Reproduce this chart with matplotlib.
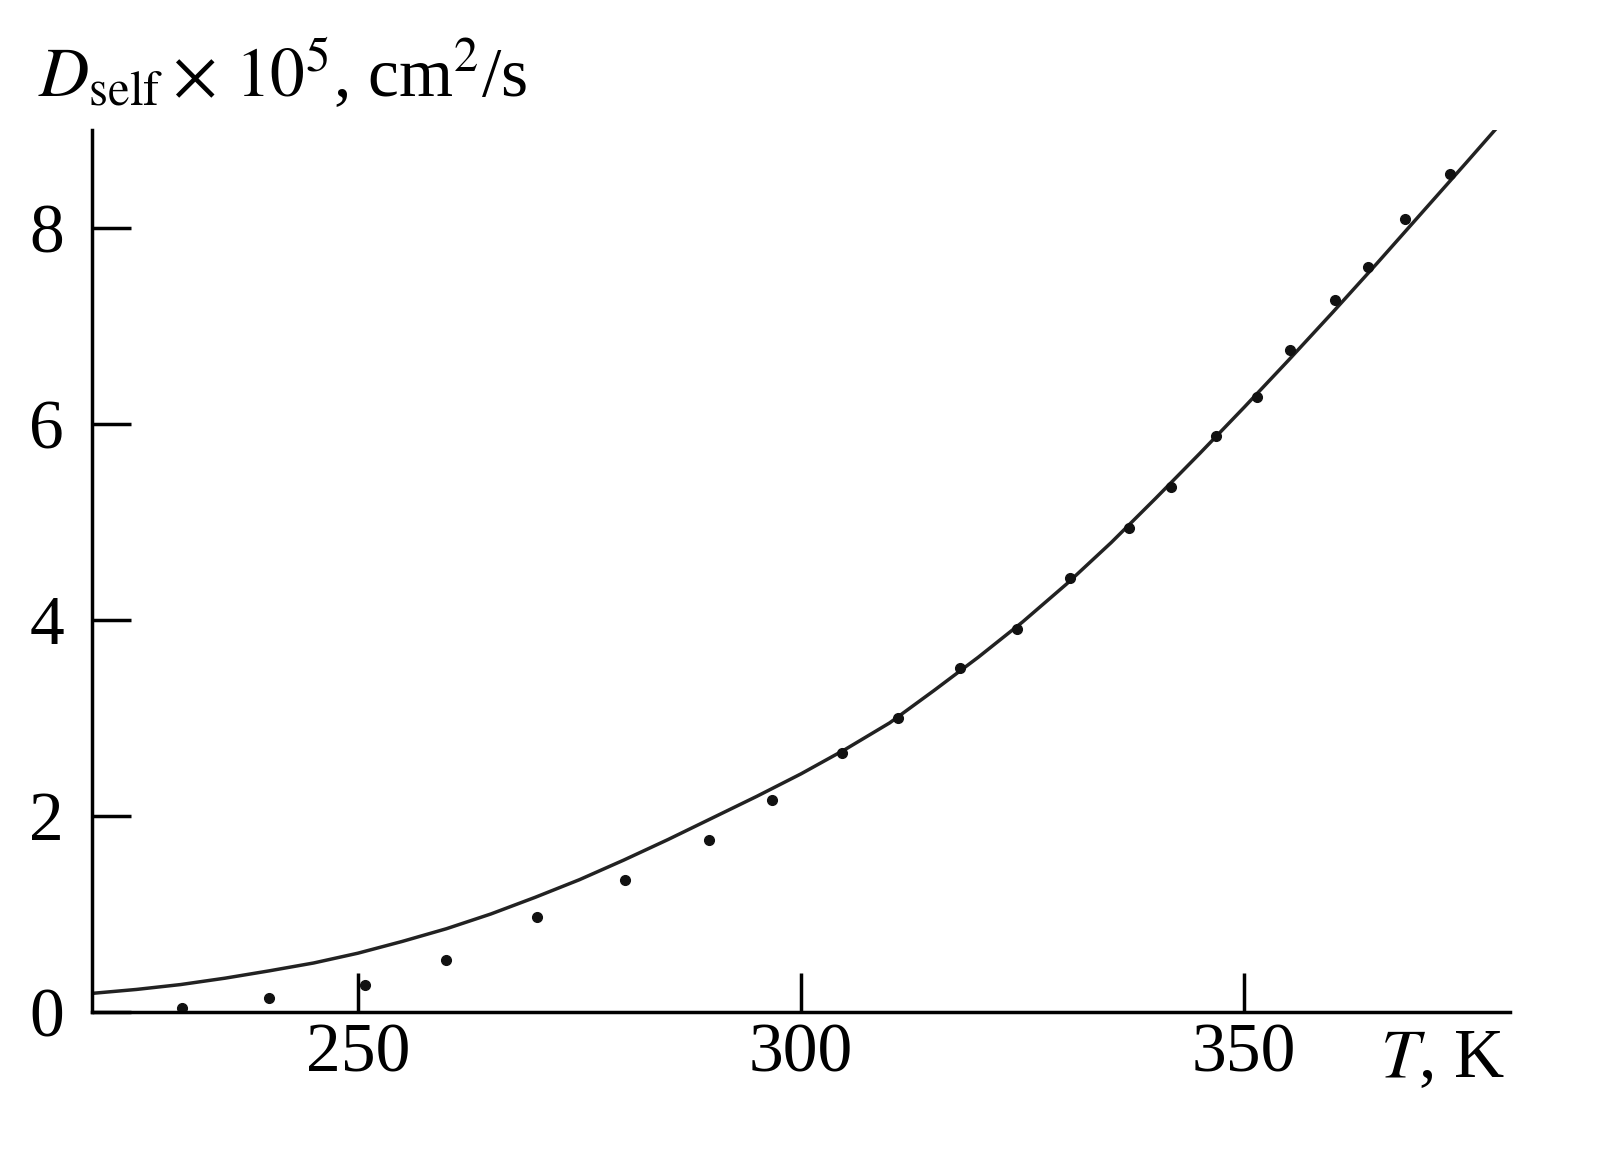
import matplotlib
matplotlib.use("Agg")
import matplotlib.pyplot as plt

pts_T = [230.2, 240, 250.8, 259.9, 270.2, 280.1, 289.6, 296.7, 304.6, 311, 317.9, 324.4,
         330.3, 337, 341.8, 346.8, 351.4, 355.2, 360.2, 364, 368.2, 373.2]
pts_D = [0.04, 0.14, 0.28, 0.53, 0.97, 1.35, 1.76, 2.16, 2.64, 3.0, 3.51, 3.91,
         4.43, 4.94, 5.36, 5.88, 6.28, 6.76, 7.27, 7.60, 8.09, 8.55]
fit_T = [220, 225, 230, 235, 240, 245, 250, 255, 260, 265, 270, 275, 280, 285, 290, 295, 300,
         305, 310, 315, 320, 325, 330, 335, 340, 345, 350, 355, 360, 365, 370, 375, 378.3]
fit_D = [0.19, 0.23, 0.28, 0.345, 0.42, 0.50, 0.60, 0.72, 0.85, 1.00, 1.17, 1.35, 1.55, 1.76,
         1.98, 2.20, 2.43, 2.68, 2.95, 3.28, 3.62, 3.98, 4.37, 4.79, 5.24, 5.70, 6.17, 6.65,
         7.14, 7.64, 8.15, 8.66, 9.0]
xticks = [250, 300, 350]
yticks = [0, 2, 4, 6, 8]

plt.rcParams['font.family'] = ['Liberation Serif', 'DejaVu Serif']
plt.rcParams['mathtext.fontset'] = 'stix'
fig = plt.figure(figsize=(16.19, 11.68), dpi=100)
ax = fig.add_axes([92/1619, 1-1012/1168, (1510-92)/1619, (1012-130)/1168])
ax.plot(fit_T, fit_D, color='#222222', lw=2.5)
ax.plot(pts_T, pts_D, 'o', color='#111111', ms=7)
ax.set_xlim(220, 380)
ax.set_ylim(0, 9.0)
ax.set_xticks(xticks)
ax.set_yticks(yticks)
for s in ['top', 'right']:
    ax.spines[s].set_visible(False)
for s in ['left', 'bottom']:
    ax.spines[s].set_linewidth(2.5)
ax.tick_params(direction='in', length=28, width=2.5, labelsize=50, pad=8)
ax.tick_params(axis='y', pad=20)
fig.text(38/1619, 1-75/1168, r'$D_{\rm self}\times\,10^5$, cm$^2$/s', fontsize=50, va='center', ha='left')
fig.text(1505/1619, 1-1060/1168, r'$T$, K', fontsize=50, va='center', ha='right')
fig.savefig('out.png', dpi=100)
